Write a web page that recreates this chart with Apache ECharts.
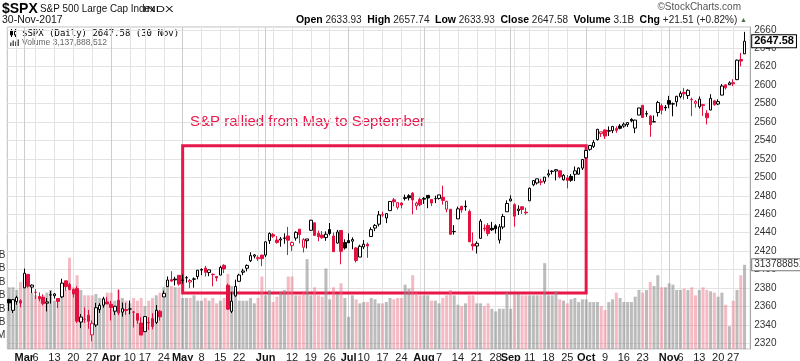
<!DOCTYPE html>
<html><head><meta charset="utf-8">
<script src="https://cdn.jsdelivr.net/npm/echarts@6/dist/echarts.min.js"></script>
<style>html,body{margin:0;padding:0;background:#fff}#c{width:800px;height:361px}</style>
</head><body><div id="c"></div>
<script>
// ---------- DATA ----------
const dates = [
'2017-02-23','2017-02-24','2017-02-27','2017-02-28',
'2017-03-01','2017-03-02','2017-03-03','2017-03-06','2017-03-07','2017-03-08','2017-03-09','2017-03-10','2017-03-13','2017-03-14','2017-03-15','2017-03-16','2017-03-17','2017-03-20','2017-03-21','2017-03-22','2017-03-23','2017-03-24','2017-03-27','2017-03-28','2017-03-29','2017-03-30','2017-03-31',
'2017-04-03','2017-04-04','2017-04-05','2017-04-06','2017-04-07','2017-04-10','2017-04-11','2017-04-12','2017-04-13','2017-04-17','2017-04-18','2017-04-19','2017-04-20','2017-04-21','2017-04-24','2017-04-25','2017-04-26','2017-04-27','2017-04-28',
'2017-05-01','2017-05-02','2017-05-03','2017-05-04','2017-05-05','2017-05-08','2017-05-09','2017-05-10','2017-05-11','2017-05-12','2017-05-15','2017-05-16','2017-05-17','2017-05-18','2017-05-19','2017-05-22','2017-05-23','2017-05-24','2017-05-25','2017-05-26','2017-05-30','2017-05-31',
'2017-06-01','2017-06-02','2017-06-05','2017-06-06','2017-06-07','2017-06-08','2017-06-09','2017-06-12','2017-06-13','2017-06-14','2017-06-15','2017-06-16','2017-06-19','2017-06-20','2017-06-21','2017-06-22','2017-06-23','2017-06-26','2017-06-27','2017-06-28','2017-06-29','2017-06-30',
'2017-07-03','2017-07-05','2017-07-06','2017-07-07','2017-07-10','2017-07-11','2017-07-12','2017-07-13','2017-07-14','2017-07-17','2017-07-18','2017-07-19','2017-07-20','2017-07-21','2017-07-24','2017-07-25','2017-07-26','2017-07-27','2017-07-28','2017-07-31',
'2017-08-01','2017-08-02','2017-08-03','2017-08-04','2017-08-07','2017-08-08','2017-08-09','2017-08-10','2017-08-11','2017-08-14','2017-08-15','2017-08-16','2017-08-17','2017-08-18','2017-08-21','2017-08-22','2017-08-23','2017-08-24','2017-08-25','2017-08-28','2017-08-29','2017-08-30','2017-08-31',
'2017-09-01','2017-09-05','2017-09-06','2017-09-07','2017-09-08','2017-09-11','2017-09-12','2017-09-13','2017-09-14','2017-09-15','2017-09-18','2017-09-19','2017-09-20','2017-09-21','2017-09-22','2017-09-25','2017-09-26','2017-09-27','2017-09-28','2017-09-29',
'2017-10-02','2017-10-03','2017-10-04','2017-10-05','2017-10-06','2017-10-09','2017-10-10','2017-10-11','2017-10-12','2017-10-13','2017-10-16','2017-10-17','2017-10-18','2017-10-19','2017-10-20','2017-10-23','2017-10-24','2017-10-25','2017-10-26','2017-10-27','2017-10-30','2017-10-31',
'2017-11-01','2017-11-02','2017-11-03','2017-11-06','2017-11-07','2017-11-08','2017-11-09','2017-11-10','2017-11-13','2017-11-14','2017-11-15','2017-11-16','2017-11-17','2017-11-20','2017-11-21','2017-11-22','2017-11-24','2017-11-27','2017-11-28','2017-11-29','2017-11-30'
];
const opens = [
2367.50,2355.73,2365.23,2366.08,
2380.13,2394.75,2380.92,2375.23,2370.74,2369.81,2363.49,2372.52,2371.56,2368.55,2370.34,2387.71,2383.71,2378.24,2379.32,2343.00,2345.97,2350.42,2329.11,2339.79,2356.54,2361.31,2364.82,
2362.34,2354.76,2366.59,2353.79,2356.59,2357.16,2353.92,2352.15,2341.98,2332.62,2342.53,2346.79,2342.69,2354.74,2370.33,2381.51,2388.98,2389.70,2393.68,
2388.50,2391.05,2386.50,2389.79,2392.37,2399.94,2401.58,2396.79,2394.84,2392.44,2393.98,2404.55,2382.95,2354.69,2371.37,2387.21,2397.04,2401.41,2409.54,2414.50,2411.67,2415.63,
2415.65,2431.28,2437.83,2431.92,2432.03,2434.27,2436.39,2425.88,2434.15,2443.75,2424.14,2431.24,2442.55,2450.66,2439.31,2437.40,2434.65,2443.32,2436.34,2428.70,2442.38,2429.20,
2431.39,2430.78,2423.44,2413.52,2424.51,2427.35,2435.75,2444.99,2449.16,2459.50,2455.88,2463.85,2475.56,2467.40,2472.04,2477.88,2479.97,2482.76,2469.12,2475.94,
2477.10,2480.38,2476.03,2476.88,2477.14,2478.35,2465.35,2465.38,2441.04,2454.96,2468.66,2468.63,2462.95,2427.64,2425.50,2433.75,2444.88,2447.91,2444.72,2447.35,2431.94,2446.06,2462.65,
2474.42,2470.35,2463.83,2468.06,2462.25,2474.52,2491.94,2493.89,2494.56,2495.67,2502.51,2506.29,2506.84,2507.16,2497.26,2499.39,2501.04,2503.30,2503.41,2509.96,
2521.20,2530.34,2533.48,2540.86,2547.44,2551.39,2549.99,2550.62,2552.88,2555.66,2555.57,2557.17,2562.87,2553.39,2567.56,2578.08,2568.66,2566.52,2560.08,2570.26,2577.75,2575.99,
2583.21,2579.46,2581.93,2587.47,2592.11,2588.71,2584.00,2580.18,2576.53,2577.75,2569.45,2572.95,2582.94,2579.49,2589.17,2600.31,2600.42,2602.66,2605.95,2627.82,2633.93
];
const highs = [
2368.26,2367.34,2371.54,2367.79,
2400.98,2394.75,2383.89,2378.80,2375.12,2373.09,2369.08,2376.86,2374.42,2368.55,2390.01,2388.10,2385.71,2379.55,2381.93,2351.81,2358.92,2356.22,2344.90,2363.78,2363.36,2370.42,2370.35,
2365.87,2360.53,2378.36,2364.16,2363.76,2366.37,2355.22,2352.72,2348.26,2349.14,2348.35,2352.63,2361.37,2356.18,2376.98,2392.48,2398.16,2392.10,2393.68,
2394.49,2392.93,2389.82,2391.43,2399.29,2401.36,2403.87,2399.74,2395.72,2392.44,2404.05,2405.77,2384.87,2375.74,2389.06,2395.46,2400.85,2405.58,2418.71,2416.68,2415.26,2415.99,
2430.06,2440.23,2439.55,2436.21,2435.28,2439.27,2446.20,2430.38,2441.49,2443.75,2433.95,2433.15,2453.82,2450.66,2442.23,2441.62,2441.40,2450.42,2440.15,2442.97,2442.73,2432.71,
2439.17,2434.90,2424.28,2426.92,2432.00,2429.30,2445.76,2449.32,2463.54,2462.82,2460.92,2473.83,2477.62,2472.54,2473.10,2481.24,2481.69,2484.04,2473.53,2477.96,
2478.51,2480.38,2476.03,2480.00,2480.95,2490.87,2474.41,2465.38,2448.09,2468.22,2468.90,2474.93,2465.02,2440.27,2430.58,2454.77,2448.91,2450.39,2451.66,2449.12,2449.19,2460.31,2475.01,
2480.38,2471.97,2469.64,2468.62,2467.11,2488.95,2496.77,2498.37,2498.43,2500.23,2508.32,2507.84,2508.85,2507.16,2503.47,2502.54,2503.51,2511.75,2510.81,2519.44,
2529.23,2535.13,2540.53,2552.51,2549.41,2551.82,2555.23,2555.24,2555.33,2557.65,2559.47,2559.71,2564.11,2562.36,2575.44,2578.29,2572.18,2567.40,2567.07,2582.98,2580.03,2578.29,
2588.40,2581.11,2588.42,2593.38,2597.02,2595.47,2586.50,2583.81,2587.66,2579.66,2572.84,2590.09,2583.96,2584.64,2601.19,2600.94,2604.21,2606.41,2627.69,2634.89,2657.74
];
const lows = [
2355.09,2352.87,2361.87,2358.96,
2380.13,2380.17,2374.42,2367.98,2365.51,2361.01,2354.54,2363.04,2368.52,2358.18,2368.94,2377.18,2377.64,2369.66,2341.90,2336.45,2342.13,2335.74,2322.25,2337.63,2352.94,2358.58,2362.60,
2344.73,2350.72,2350.52,2348.90,2350.74,2351.50,2337.25,2341.18,2328.95,2332.51,2334.54,2335.05,2340.91,2344.51,2370.33,2381.15,2386.78,2382.68,2382.36,
2384.83,2385.82,2379.75,2380.35,2389.38,2393.92,2392.44,2392.79,2381.74,2387.19,2393.94,2396.05,2356.21,2352.72,2370.43,2386.92,2393.88,2397.99,2408.01,2412.20,2409.43,2403.59,
2413.54,2427.71,2434.32,2428.12,2424.75,2427.94,2415.70,2419.97,2431.28,2428.34,2418.53,2422.88,2441.79,2436.60,2430.74,2433.27,2431.11,2437.03,2419.38,2428.02,2405.70,2421.65,
2428.69,2422.05,2407.70,2413.52,2422.27,2412.79,2435.75,2441.69,2446.69,2457.16,2450.34,2463.85,2468.43,2465.06,2466.32,2474.91,2474.94,2459.93,2464.66,2468.53,
2471.14,2466.48,2468.85,2472.08,2475.88,2470.32,2462.08,2437.75,2437.85,2454.96,2461.61,2463.86,2430.01,2420.69,2417.35,2433.67,2441.42,2436.19,2441.90,2439.03,2428.20,2443.77,2462.65,
2473.85,2446.55,2459.20,2460.29,2459.40,2474.52,2490.37,2492.14,2491.35,2493.16,2499.92,2503.19,2496.67,2499.00,2496.54,2488.03,2495.12,2495.91,2502.93,2507.99,
2520.40,2528.85,2531.80,2540.02,2543.79,2541.60,2544.86,2547.95,2548.31,2552.09,2553.83,2554.69,2559.67,2547.92,2567.56,2564.33,2565.58,2544.00,2559.80,2565.94,2568.25,2572.15,
2574.92,2566.17,2576.77,2585.66,2584.35,2585.02,2566.33,2575.57,2574.48,2566.56,2557.45,2572.95,2577.62,2578.24,2589.17,2595.23,2600.42,2598.87,2605.44,2620.32,2633.93
];
const closes = [
2363.81,2367.34,2369.75,2363.64,
2395.96,2381.92,2383.12,2375.31,2368.39,2362.98,2364.87,2372.60,2373.47,2365.45,2385.26,2381.38,2378.25,2373.47,2344.02,2348.45,2345.96,2343.98,2341.59,2358.57,2361.13,2368.06,2362.72,
2358.84,2360.16,2352.95,2357.49,2355.54,2357.16,2353.78,2344.93,2328.95,2349.01,2342.19,2338.17,2355.84,2348.69,2374.15,2388.61,2387.45,2388.77,2384.20,
2388.33,2391.17,2388.13,2389.52,2399.29,2399.38,2396.92,2399.63,2394.44,2390.90,2402.32,2400.67,2357.03,2365.72,2381.73,2394.02,2398.42,2404.39,2415.07,2415.82,2412.91,2411.80,
2430.06,2439.07,2436.10,2429.33,2433.14,2433.79,2431.77,2429.39,2440.35,2437.92,2432.46,2433.15,2453.46,2437.03,2435.61,2434.50,2438.30,2439.07,2419.38,2440.69,2419.70,2423.41,
2429.01,2432.54,2409.75,2425.18,2427.43,2425.53,2443.25,2447.83,2459.27,2459.14,2460.61,2473.83,2473.45,2472.54,2469.91,2477.13,2477.83,2475.42,2472.10,2470.30,
2476.35,2477.57,2472.16,2476.83,2480.91,2474.92,2474.02,2438.21,2441.32,2465.84,2464.61,2468.11,2430.01,2425.55,2428.37,2452.51,2444.04,2438.97,2443.05,2444.24,2446.30,2457.59,2471.65,
2476.55,2457.85,2465.54,2465.10,2461.43,2488.11,2496.48,2498.37,2495.62,2500.23,2503.87,2506.65,2508.24,2500.60,2502.22,2496.66,2496.84,2507.04,2510.06,2519.36,
2529.12,2534.58,2537.74,2552.07,2549.33,2544.73,2550.64,2555.24,2550.93,2553.17,2557.64,2559.36,2561.26,2562.10,2575.21,2564.98,2569.13,2557.15,2560.40,2581.07,2572.83,2575.26,
2579.36,2579.85,2587.84,2591.13,2590.64,2594.38,2584.62,2582.30,2584.84,2578.87,2564.62,2585.64,2578.85,2582.14,2599.03,2597.08,2602.42,2601.42,2627.04,2626.07,2647.58
];
// volume in billions of shares
const volumes = [
2.3,2.3,2.2,2.5,
2.6,2.7,2.1,2.0,1.9,2.0,2.1,2.2,1.8,1.9,2.45,2.2,3.4,2.3,2.75,2.2,2.0,2.0,2.0,2.05,1.9,1.9,2.1,
2.1,1.8,2.2,1.9,1.8,1.7,1.9,1.8,1.9,1.6,1.8,1.9,2.0,2.1,2.3,2.4,2.35,2.3,2.3,
1.9,1.9,1.9,2.0,1.8,1.8,1.9,1.8,1.9,1.7,1.8,1.9,2.8,2.35,2.2,1.8,1.8,1.8,1.9,1.7,1.9,2.7,
2.0,2.2,1.75,1.95,2.15,2.2,2.7,2.7,2.0,2.0,2.1,3.35,2.0,2.3,2.0,1.95,3.0,1.85,2.3,2.05,2.45,1.9,
1.2,2.0,1.85,1.7,1.75,1.75,1.9,1.85,1.7,1.7,1.75,1.9,1.85,1.9,1.9,2.4,2.25,2.75,2.1,2.0,
2.0,2.0,1.8,1.8,1.7,1.9,2.0,2.2,2.0,1.65,1.6,1.7,2.0,2.0,1.7,1.7,1.6,1.7,1.5,1.4,1.5,1.5,2.1,
1.5,2.05,2.05,2.0,2.0,2.0,2.0,2.0,2.0,3.2,2.0,2.0,2.15,1.85,1.8,1.7,1.85,1.9,1.75,1.85,
1.85,1.75,1.75,1.75,1.6,1.45,1.75,1.85,2.1,1.9,1.75,1.75,1.75,1.95,2.2,2.1,2.2,2.5,2.35,2.75,2.3,2.3,
2.45,2.4,2.2,2.2,2.25,2.2,2.3,2.0,2.2,2.3,2.2,2.15,2.1,1.95,2.1,1.65,0.85,1.8,2.2,2.75,3.137888512
];
const prevClose = 2362.82;           // close of the day before the first candle
const annotationText = 'S&P rallied from May to September';
const boxStart = '2017-05-01', boxEnd = '2017-10-02';
const boxTop = 2534.3, boxBottom = 2374.5;
const MONTHS = ['Jan','Feb','Mar','Apr','May','Jun','Jul','Aug','Sep','Oct','Nov','Dec'];

// ---------- DERIVED ----------
const RED = '#E3113F', BLACK = '#000000';
const FONT = '"Liberation Sans", Arial, sans-serif';
const n = dates.length;
const cats = dates.concat(['']);
const parsed = dates.map(d => new Date(d + 'T00:00:00Z'));
const isMonthStart = cats.map((d, i) => i > 0 && i < n && parsed[i].getUTCMonth() !== parsed[i-1].getUTCMonth());
const isWeekStart = cats.map((d, i) => i > 0 && i < n && (parsed[i].getUTCDay() < parsed[i-1].getUTCDay() || (parsed[i] - parsed[i-1]) >= 7 * 864e5));
const showGrid = cats.map((d, i) => isMonthStart[i] || isWeekStart[i]);
const showLabel = cats.map((d, i) => {
  if (i === 0 || i === n) return true;          // empty edge labels (keep min/max label logic away from real labels)
  if (isMonthStart[i]) return true;
  if (!isWeekStart[i]) return false;
  for (let k = -2; k <= 2; k++) if (k !== 0 && isMonthStart[i + k]) return false;
  return true;
});

const candleData = dates.map((d, i) => {
  const o = opens[i], c = closes[i], pc = i ? closes[i-1] : prevClose;
  const col = c < pc ? RED : BLACK;
  const fill = c < o ? col : '#ffffff';
  return { value: [o, c, lows[i], highs[i]],
    itemStyle: { color: fill, color0: fill, borderColor: col, borderColor0: col, borderColorDoji: col, borderWidth: 1 } };
});
const volData = volumes.map((v, i) => {
  const pc = i ? closes[i-1] : prevClose;
  return { value: v, itemStyle: { color: closes[i] < pc ? 'rgba(232,112,132,0.48)' : 'rgba(140,140,140,0.58)' } };
});

const last = n - 1;
const lastC = closes[last];
const chg = lastC - closes[last - 1];
const chgPct = chg / closes[last - 1] * 100;
const lastD = parsed[last];
const fmt2 = v => v.toFixed(2);

const chart = echarts.init(document.getElementById('c'), null, { renderer: 'canvas' });

const GL = 7.3, GR = 49.8, GT = 27, GB = 12;

const option = {
  animation: false,
  backgroundColor: '#ffffff',
  textStyle: { fontFamily: FONT },
  grid: { left: GL, right: GR, top: GT, bottom: GB, show: true, borderColor: '#bdbdbd', borderWidth: 1,
          containLabel: false, outerBoundsMode: 'none' },
  xAxis: [
    { type: 'category', data: cats, boundaryGap: true, position: 'bottom',
      axisLine: { show: false }, axisTick: { show: false },
      axisLabel: { interval: (i) => showLabel[i], hideOverlap: false,
        margin: 3, fontSize: 11, color: '#222', fontFamily: FONT,
        formatter: (v, i) => {
          if (!v || i === 0) return '';
          const d = new Date(v + 'T00:00:00Z');
          return isMonthStart[i] ? '{m|' + MONTHS[d.getUTCMonth()] + '}' : String(d.getUTCDate());
        },
        rich: { m: { fontWeight: 'bold', fontSize: 11, color: '#111', fontFamily: FONT } } },
      splitLine: { show: true, interval: (i) => showGrid[i] && !isMonthStart[i], alignWithLabel: true,
                   lineStyle: { color: '#e3e3e3', width: 1 } } },
    { type: 'category', data: cats, boundaryGap: true,
      axisLine: { show: false }, axisTick: { show: false }, axisLabel: { show: false },
      splitLine: { show: true, interval: (i) => isMonthStart[i], alignWithLabel: true,
                   lineStyle: { color: '#cdcdcd', width: 1 } } }
  ],
  yAxis: [
    { type: 'value', position: 'right', scale: true, min: 2313.8, max: 2663.04, splitNumber: 17,
      axisLine: { show: true, lineStyle: { color: '#a8a8a8' } }, axisTick: { show: false },
      axisLabel: { showMinLabel: false, showMaxLabel: false, margin: 4, fontSize: 10, color: '#333', fontFamily: FONT,
                   formatter: v => String(Math.round(v)) },
      splitLine: { show: true, lineStyle: { color: '#e3e3e3', width: 1 } } },
    { type: 'value', position: 'left', min: 0, max: 12, interval: 0.5,
      axisLine: { show: false }, axisTick: { show: false }, splitLine: { show: false },
      axisLabel: { margin: 2, fontSize: 10, color: '#333', fontFamily: FONT,
        formatter: v => (v >= 0.5 && v <= 3.5) ? (v < 1 ? Math.round(v * 1000) + 'M' : v.toFixed(1) + 'B') : '' } }
  ],
  series: [
    { type: 'bar', name: 'Volume', xAxisIndex: 0, yAxisIndex: 1, data: volData, barWidth: 3, z: 1, silent: true, clip: false,
      markLine: { symbol: 'none', silent: true, lineStyle: { color: 'rgba(0,0,0,0)', width: 0 },
        label: { show: true, position: 'end', distance: 2, formatter: String(Math.round(volumes[last] * 1e9)),
          fontSize: 10, color: '#333', fontFamily: FONT, backgroundColor: '#fff', borderColor: '#777', borderWidth: 1, padding: [1, 2, 0, 2] },
        data: [{ yAxis: volumes[last] }] } },
    { type: 'candlestick', name: '$SPX', xAxisIndex: 0, yAxisIndex: 0, data: candleData, barWidth: 3, z: 3, silent: true, clip: false,
      markArea: { silent: true,
        itemStyle: { color: 'rgba(0,0,0,0)', borderColor: '#E8174A', borderWidth: 3 },
        label: { show: false },
        data: [[{ xAxis: boxStart, yAxis: boxTop }, { xAxis: boxEnd, yAxis: boxBottom }]] },
      markLine: { symbol: 'none', silent: true, lineStyle: { color: 'rgba(0,0,0,0)', width: 0 },
        label: { show: true, position: 'end', distance: 2, formatter: fmt2(lastC), fontSize: 11, fontWeight: 'bold', color: '#000',
          fontFamily: FONT, backgroundColor: '#fff', borderColor: '#000', borderWidth: 1, padding: [1, 2, 0, 2] },
        data: [{ yAxis: lastC }] } }
  ],
  graphic: [
    { type: 'text', x: 2, y: 9, style: { text: '$SPX', font: 'bold 14px ' + FONT, fill: '#000', verticalAlign: 'middle', textVerticalAlign: 'middle' } },
    { type: 'text', x: 40, y: 9, scaleX: 0.9, style: { text: 'S&P 500 Large Cap Index', font: '11px ' + FONT, fill: '#111', verticalAlign: 'middle', textVerticalAlign: 'middle' } },
    { type: 'text', x: 143, y: 9.5, scaleX: 1.35, style: { text: 'INDX', font: '9.5px ' + FONT, fill: '#111', verticalAlign: 'middle', textVerticalAlign: 'middle' } },
    { type: 'text', x: 2, y: 20.5, style: { text: lastD.getUTCDate() + '-' + MONTHS[lastD.getUTCMonth()] + '-' + lastD.getUTCFullYear(), font: '10.5px ' + FONT, fill: '#111', verticalAlign: 'middle', textVerticalAlign: 'middle' } },
    { type: 'text', x: 741, y: 7.5, style: { text: '\u00A9StockCharts.com', font: '10px ' + FONT, fill: '#555', align: 'right', textAlign: 'right', verticalAlign: 'middle', textVerticalAlign: 'middle' } },
    { type: 'text', x: 747, y: 20, style: {
        text: '{l|Open} {v|' + fmt2(opens[last]) + '}  {l|High} {v|' + fmt2(highs[last]) + '}  {l|Low} {v|' + fmt2(lows[last]) +
              '}  {l|Close} {v|' + fmt2(lastC) + '}  {l|Volume} {v|' + volumes[last].toFixed(1) + 'B}  {l|Chg} {v|' +
              (chg >= 0 ? '+' : '') + fmt2(chg) + ' (' + (chg >= 0 ? '+' : '') + chgPct.toFixed(2) + '%)} {t|\u25B2}',
        align: 'right', textAlign: 'right', verticalAlign: 'middle', textVerticalAlign: 'middle', font: '10px ' + FONT, fill: '#111',
        rich: { l: { font: 'bold 10.5px ' + FONT, fill: '#000' }, v: { font: '10px ' + FONT, fill: '#222' }, t: { font: '7px ' + FONT, fill: '#4a6e4a' } } } },
    // legend icons inside plot
    { type: 'line', shape: { x1: 11.5, y1: 29, x2: 11.5, y2: 37 }, style: { stroke: '#000', lineWidth: 1 } },
    { type: 'rect', shape: { x: 10.5, y: 30.5, width: 2, height: 4.5 }, style: { fill: '#000', stroke: '#000', lineWidth: 1 } },
    { type: 'line', shape: { x1: 15.5, y1: 29, x2: 15.5, y2: 37 }, style: { stroke: '#000', lineWidth: 1 } },
    { type: 'rect', shape: { x: 14.5, y: 31.5, width: 2, height: 3.5 }, style: { fill: '#fff', stroke: '#000', lineWidth: 1 } },
    { type: 'text', x: 22, y: 33.5, style: { text: '$SPX (Daily) ' + fmt2(lastC) + ' (' + lastD.getUTCDate() + ' ' + MONTHS[lastD.getUTCMonth()] + ')', font: '9px "DejaVu Sans Mono", monospace', fill: '#000', verticalAlign: 'middle', textVerticalAlign: 'middle' } },
    { type: 'rect', shape: { x: 10, y: 42.5, width: 1.5, height: 3.5 }, style: { fill: '#555' } },
    { type: 'rect', shape: { x: 12.5, y: 40.5, width: 1.5, height: 5.5 }, style: { fill: '#555' } },
    { type: 'rect', shape: { x: 15, y: 41.5, width: 1.5, height: 4.5 }, style: { fill: '#555' } },
    { type: 'rect', shape: { x: 17.5, y: 39.5, width: 1.5, height: 6.5 }, style: { fill: '#555' } },
    { type: 'text', x: 22, y: 43, style: { text: 'Volume ' + Math.round(volumes[last] * 1e9).toLocaleString('en-US'), font: '8.5px ' + FONT, fill: '#666', verticalAlign: 'middle', textVerticalAlign: 'middle' } },
    // annotation
    { type: 'text', x: 190, y: 122, style: { text: annotationText, font: '15px ' + FONT, fill: '#E8174A', verticalAlign: 'middle', textVerticalAlign: 'middle' } }
  ]
};
chart.setOption(option);
</script>
</body></html>
